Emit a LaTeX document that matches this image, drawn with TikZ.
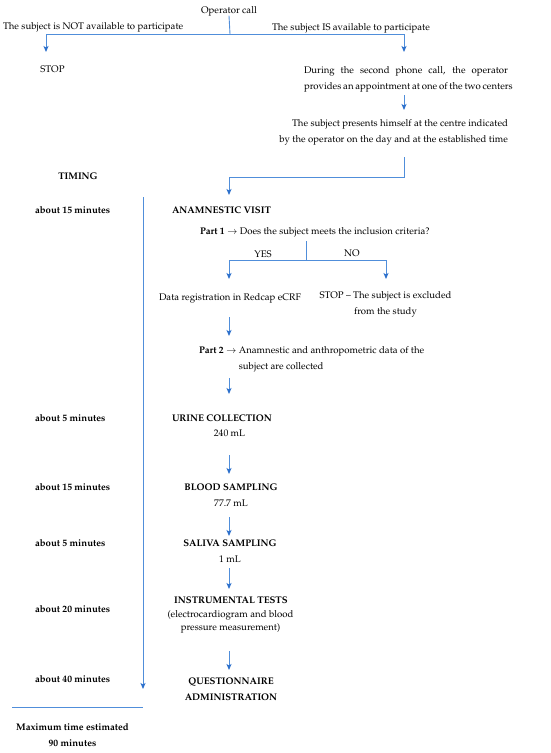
\documentclass[tikz,border=0pt]{standalone}
\usepackage[T1]{fontenc}
\usepackage{mathpazo}
\usetikzlibrary{arrows.meta}
\definecolor{lnblue}{RGB}{80,142,218}
\definecolor{hdblue}{RGB}{44,112,204}
\tikzset{
  ln/.style={draw=lnblue, line width=0.9pt},
  arr/.style={ln, -{Stealth[length=6pt,width=5pt,inset=1.5pt,fill=hdblue,color=hdblue]}},
  txt/.style={inner sep=0pt, outer sep=0pt, font=\fontsize{9.6}{16}\selectfont},
  bx/.style={txt, font=\fontsize{9.6}{16}\selectfont\bfseries},
}
\begin{document}
\begin{tikzpicture}[x=1pt,y=-1pt]
\fill[white] (0,0) rectangle (550,753);
\useasboundingbox (0,0) rectangle (550,753);

% top texts
\node[txt, anchor=base] (op) at (229,13) {Operator call};
\node[txt, anchor=base west] (notav) at (3,29) {The subject is NOT available to participate};
\node[txt, anchor=base west] (isav) at (272,30) {The subject IS available to participate};
\node[txt, anchor=base] (stop1) at (52.5,72) {STOP};
\node[txt, anchor=base east, align=right] (during) at (508,89)
  {\makebox[204pt][s]{During the second phone call, the operator}\\
   \makebox[204pt][s]{provides an appointment at one of the two centers}};
\node[txt, anchor=base east, align=right] (presents) at (508,142)
  {The subject presents himself at the centre indicated\\
   by the operator on the day and at the established time};

\node[bx, anchor=base] (timing) at (78,179) {TIMING};

% timing labels
\node[bx, anchor=base west] (t1) at (35,213) {about 15 minutes};
\node[bx, anchor=base west] (t2) at (35,421) {about 5 minutes};
\node[bx, anchor=base west] (t3) at (35,490) {about 15 minutes};
\node[bx, anchor=base west] (t4) at (35,546) {about 5 minutes};
\node[bx, anchor=base west] (t5) at (35,612) {about 20 minutes};
\node[bx, anchor=base west] (t6) at (35,682) {about 40 minutes};
\node[bx, anchor=base, align=center] (maxt) at (72.5,746) {Maximum time estimated\\90 minutes};

% main column
\node[bx, anchor=base west] (anam) at (172,213) {ANAMNESTIC VISIT};
\node[txt, anchor=base west] (part1) at (200,234) {\textbf{Part 1} $\rightarrow$ Does the subject meets the inclusion criteria?};
\node[txt, anchor=base] (yes) at (263,257) {YES};
\node[txt, anchor=base] (no) at (352,256) {NO};
\node[txt, anchor=base] (reg) at (230,300) {Data registration in Redcap eCRF};
\node[txt, anchor=base, align=center] (excl) at (385.5,314) {STOP -- The subject is excluded\\from the study};
\node[txt, anchor=base west] (part2) at (199,353)
  {\begin{tabular}[t]{@{}l@{\ }l@{}}\textbf{Part 2} $\rightarrow$ & Anamnestic and anthropometric data of the\\ & subject are collected\end{tabular}};
\node[bx, anchor=base west] (urine) at (172,421) {URINE COLLECTION};
\node[txt, anchor=base] (urinev) at (229.5,436) {240 mL};
\node[bx, anchor=base] (blood) at (231,490) {BLOOD SAMPLING};
\node[txt, anchor=base] (bloodv) at (231,506) {77.7 mL};
\node[bx, anchor=base] (saliva) at (230,546) {SALIVA SAMPLING};
\node[txt, anchor=base] (salivav) at (230,562) {1 mL};
\node[bx, anchor=base] (instr) at (231,603) {INSTRUMENTAL TESTS};
\node[txt, anchor=base, align=center, font=\fontsize{9.6}{13.5}\selectfont] (instrv) at (230.5,630.5) {(electrocardiogram and blood\\pressure measurement)};
\node[bx, anchor=base, align=center] (quest) at (231,700) {QUESTIONNAIRE\\ADMINISTRATION};

% junction coordinates
\coordinate (j1) at (230,34);
\coordinate (e1) at (46,52);
\coordinate (e2) at (404,52);
\coordinate (d1) at (404,95);
\coordinate (d2) at (404,110);
\coordinate (p1) at (404,157);
\coordinate (p2) at (404,177);
\coordinate (p3) at (229,195);
\coordinate (s1) at (306,241);
\coordinate (s2) at (306,260);
\coordinate (y1) at (229,279);
\coordinate (n1) at (386,279);
\coordinate (r1) at (229,317);
\coordinate (r2) at (229,336);
\coordinate (q1) at (229,378);
\coordinate (q2) at (229,394);
\coordinate (u1) at (229,455);
\coordinate (u2) at (229,474);
\coordinate (b1) at (229,517);
\coordinate (b2) at (229,536);
\coordinate (sa1) at (229,568);
\coordinate (sa2) at (229,589);
\coordinate (i1) at (229,651);
\coordinate (i2) at (229,670);
\coordinate (tl1) at (143,197);
\coordinate (tl2) at (143,689);
\coordinate (h1) at (12,707);
\coordinate (h2) at (143,707);

% connectors
\draw[ln] (op.south) -- (j1);
\draw[arr] (j1) -| (e1);
\draw[arr] (j1) -| (e2);
\draw[arr] (d1) -- (d2);
\draw[arr] (p1) -- (p2) -| (p3);
\draw[ln] (s1) -- (s2);
\draw[arr] (s2) -| (y1);
\draw[arr] (s2) -| (n1);
\draw[arr] (r1) -- (r2);
\draw[arr] (q1) -- (q2);
\draw[arr] (u1) -- (u2);
\draw[arr] (b1) -- (b2);
\draw[arr] (sa1) -- (sa2);
\draw[arr] (i1) -- (i2);
\draw[arr] (tl1) -- (tl2);
\draw[ln] (h1) -- (h2);
\end{tikzpicture}
\end{document}
